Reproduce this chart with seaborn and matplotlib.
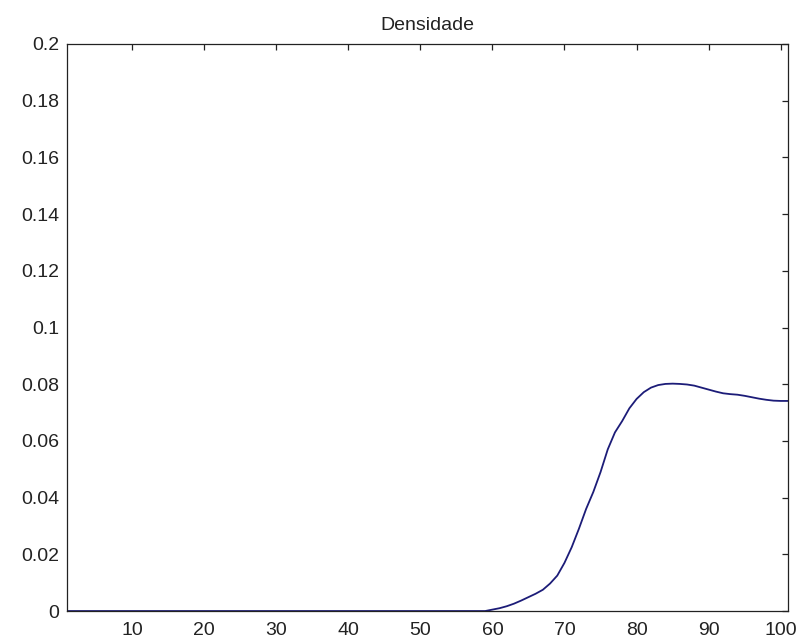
import matplotlib
matplotlib.use("Agg")
import matplotlib.pyplot as plt
from matplotlib.ticker import FuncFormatter, MultipleLocator
import seaborn as sns
import pandas as pd

# Density estimate sampled at integer positions 1..101
x_vals = list(range(1, 102))
densidade = [
    0.0, 0.0, 0.0, 0.0, 0.0, 0.0, 0.0, 0.0, 0.0, 0.0,
    0.0, 0.0, 0.0, 0.0, 0.0, 0.0, 0.0, 0.0, 0.0, 0.0,
    0.0, 0.0, 0.0, 0.0, 0.0, 0.0, 0.0, 0.0, 0.0, 0.0,
    0.0, 0.0, 0.0, 0.0, 0.0, 0.0, 0.0, 0.0, 0.0, 0.0,
    0.0, 0.0, 0.0, 0.0, 0.0, 0.0, 0.0, 0.0, 0.0, 0.0,
    0.0, 0.0, 0.0, 0.0, 0.0, 0.0, 0.0, 0.0, 0.0,
    0.0005, 0.0010, 0.0017, 0.0026, 0.0037, 0.0049, 0.0061, 0.0075, 0.0097, 0.0125,
    0.0170, 0.0225, 0.0290, 0.0360, 0.0420, 0.0490, 0.0570, 0.0630, 0.0670, 0.0715,
    0.0748, 0.0772, 0.0788, 0.0797, 0.0801, 0.0802, 0.0801, 0.0799, 0.0795, 0.0788,
    0.0781, 0.0774, 0.0768, 0.0765, 0.0763, 0.0759, 0.0754, 0.0749, 0.0745, 0.0742,
    0.0741, 0.0741,
]
x_ticks = [10, 20, 30, 40, 50, 60, 70, 80, 90, 100]
titulo = "Densidade"

df = pd.DataFrame({"x": x_vals, "y": densidade})

sns.set_style("white")
plt.rcParams["font.family"] = ["Liberation Sans", "DejaVu Sans"]

fig = plt.figure(figsize=(7.99, 6.44), dpi=100)
ax = fig.add_axes([0.0839, 0.0512, 0.9023, 0.8805])

sns.lineplot(data=df, x="x", y="y", ax=ax, color="#1c1c78", linewidth=1.3)

ax.set_xlim(1, 101)
ax.set_ylim(0, 0.2)
ax.set_xticks(x_ticks)
ax.yaxis.set_major_locator(MultipleLocator(0.02))
ax.yaxis.set_major_formatter(FuncFormatter(lambda v, p: "%g" % round(v, 4)))
ax.set_xlabel("")
ax.set_ylabel("")
ax.set_title(titulo, fontsize=14, pad=10, color="#222222")

for s in ax.spines.values():
    s.set_visible(True)
    s.set_color("#222222")
    s.set_linewidth(0.9)

ax.tick_params(axis="both", which="major", direction="in", length=4.5, width=0.9,
               colors="#222222", labelsize=14, top=True, right=True,
               labelcolor="#222222")
ax.tick_params(axis="x", pad=8)
ax.tick_params(axis="y", pad=5.5)

fig.savefig("out.png", dpi=100)
